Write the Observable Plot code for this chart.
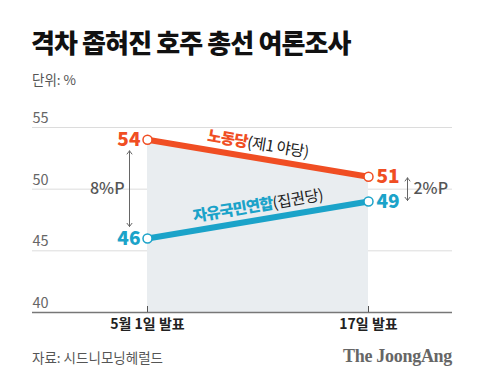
<!DOCTYPE html>
<html><head><meta charset="utf-8">
<script src="https://cdn.jsdelivr.net/npm/d3@7"></script>
<script src="https://cdn.jsdelivr.net/npm/@observablehq/plot@0.6"></script>
<style>
body{margin:0;background:#fff;font-family:"Noto Sans CJK KR",sans-serif;}
#wrap{position:relative;width:480px;height:384px;overflow:hidden;background:#fff;}
#title{position:absolute;left:31px;top:29px;font-size:26px;font-weight:900;color:#111;letter-spacing:-0.9px;line-height:1;white-space:nowrap;}
#unit{position:absolute;left:32px;top:71px;font-size:13.5px;color:#555;line-height:1.2;}
#chart{position:absolute;left:0;top:95px;}
#source{position:absolute;left:32px;top:349px;font-size:13.5px;color:#555;line-height:1.2;}
#logo{position:absolute;right:28px;top:346px;font-family:"Liberation Serif",serif;font-weight:700;font-size:18px;color:#666;line-height:1.2;letter-spacing:-0.3px;}
</style></head><body>
<div id="wrap">
  <div id="title"></div>
  <div id="unit"></div>
  <div id="chart"></div>
  <div id="source"></div>
  <div id="logo"></div>
</div>
<script>
// ---- data ----
const titleText = "격차 좁혀진 호주 총선 여론조사";
const unitText = "단위: %";
const sourceText = "자료: 시드니모닝헤럴드";
const logoText = "The JoongAng";
const dates = ["5월 1일 발표", "17일 발표"];
const partyNames = ["노동당", "자유국민연합"];
const partyNotes = ["(제1 야당)", "(집권당)"];
const laborValues = [54, 51];
const coalitionValues = [46, 49];
const yTicks = [40, 45, 50, 55];

// ---- styles ----
const colors = ["#f04e23", "#1ba3c9"];
const W = 480, H = 250;
const xRange = [147, 368];
const yRange = [217, 32];
const yMin = yTicks[0], yMax = yTicks[yTicks.length - 1];

document.getElementById("title").textContent = titleText;
document.getElementById("unit").textContent = unitText;
document.getElementById("source").textContent = sourceText;
document.getElementById("logo").textContent = logoText;

const seriesValues = [laborValues, coalitionValues];
const series = partyNames.map((name, k) => ({
  name, note: partyNotes[k], color: colors[k],
  rows: seriesValues[k].map((v, i) => ({i, value: v, color: colors[k], date: dates[i]}))
}));
const allRows = series.flatMap(s => s.rows);

// angle of each line in pixels
const xs = Plot.scale({x: {type: "linear", domain: [0, 1], range: xRange}});
const ys = Plot.scale({y: {type: "linear", domain: [yMin, yMax], range: yRange}});
const angleOf = vals => Math.atan2(ys.apply(vals[1]) - ys.apply(vals[0]), xs.apply(1) - xs.apply(0)) * 180 / Math.PI;

const labelRows = series.map(s => ({
  x: 0.5, y: (s.rows[0].value + s.rows[1].value) / 2, text: s.name + s.note, angle: angleOf(s.rows.map(r => r.value))
}));

// gaps
const gapRows = dates.map((d, i) => {
  const a = laborValues[i], b = coalitionValues[i];
  return {i, top: a, bottom: b, mid: (a + b) / 2, label: Math.abs(a - b) + "%P"};
});

const marks = [
  Plot.ruleY(yTicks.slice(1), {stroke: "#dcdcdc", strokeWidth: 1}),
  Plot.areaY(series[0].rows, {x: "i", y1: yMin, y2: "value", fill: "#e9edf0"}),
  Plot.ruleY([yMin], {stroke: "#777", strokeWidth: 1.5}),
  Plot.ruleX([0, 1], {x: d => d, y1: yMin, y2: yMin, insetBottom: 6, stroke: "#555", strokeWidth: 1}),
  Plot.text(yTicks, {frameAnchor: "left", y: d => d, text: d => String(d), textAnchor: "start", dy: -9, fontSize: 14.5, fill: "#666"}),
  Plot.axisX([0, 1], {tickFormat: i => dates[i], tickSize: 0, tickPadding: 7, fontSize: 14, fontWeight: 700, fill: "#222", label: null}),
  // gap arrows
  Plot.arrow(gapRows.filter(d => d.i === 0), {x: "i", y1: "mid", y2: "top", dx: -18, insetEnd: 11, stroke: "#666", strokeWidth: 1, headLength: 6, headAngle: 75}),
  Plot.arrow(gapRows.filter(d => d.i === 0), {x: "i", y1: "mid", y2: "bottom", dx: -18, insetEnd: 12, stroke: "#666", strokeWidth: 1, headLength: 6, headAngle: 75}),
  Plot.arrow(gapRows.filter(d => d.i === 1), {x: "i", y1: "mid", y2: "top", dx: 39, insetEnd: 1, stroke: "#666", strokeWidth: 1, headLength: 6, headAngle: 75}),
  Plot.arrow(gapRows.filter(d => d.i === 1), {x: "i", y1: "mid", y2: "bottom", dx: 39, insetEnd: 1, stroke: "#666", strokeWidth: 1, headLength: 6, headAngle: 75}),
  Plot.text(gapRows.filter(d => d.i === 0), {x: "i", y: "mid", text: "label", dx: -23, textAnchor: "end", fontSize: 16, fontWeight: 500, fill: "#555"}),
  Plot.text(gapRows.filter(d => d.i === 1), {x: "i", y: "mid", text: "label", dx: 45, textAnchor: "start", fontSize: 16, fontWeight: 500, fill: "#555"}),
];
series.forEach(s => {
  marks.push(Plot.line(s.rows, {x: "i", y: "value", stroke: s.color, strokeWidth: 6}));
});
series.forEach(s => {
  marks.push(Plot.dot(s.rows, {x: "i", y: "value", r: 4.5, fill: "white", stroke: s.color, strokeWidth: 1.5}));
});
marks.push(
  Plot.text(allRows.filter(d => d.i === 0), {x: "i", y: "value", text: d => String(d.value), fill: "color", dx: -7, textAnchor: "end", fontSize: 19, fontWeight: 800}),
  Plot.text(allRows.filter(d => d.i === 1), {x: "i", y: "value", text: d => String(d.value), fill: "color", dx: 8, textAnchor: "start", fontSize: 19, fontWeight: 800})
);
labelRows.forEach((l, k) => {
  marks.push(Plot.text([l], {x: "x", y: "y", text: "text", rotate: l.angle, dy: -14, fontSize: 15.5, textAnchor: "middle", fill: colors[k]}));
});

const chart = Plot.plot({
  width: W, height: H,
  marginLeft: 32, marginRight: 28, marginTop: 32, marginBottom: 33,
  x: {type: "linear", domain: [0, 1], range: xRange, axis: null},
  y: {type: "linear", domain: [yMin, yMax], range: yRange, axis: null},
  color: {type: "identity"},
  style: {fontFamily: "Noto Sans CJK KR, sans-serif", background: "transparent", overflow: "visible"},
  marks
});
document.getElementById("chart").appendChild(chart);

// style the party labels with two parts
d3.select(chart).selectAll("text").each(function() {
  const t = this.textContent;
  series.forEach(s => {
    if (t === s.name + s.note) {
      const el = d3.select(this);
      el.text(null);
      el.append("tspan").text(s.name).attr("fill", s.color).attr("font-weight", 800).attr("letter-spacing", "-0.8");
      el.append("tspan").text(s.note).attr("fill", "#222").attr("font-weight", 400).attr("letter-spacing", "-0.5");
    }
  });
});
</script>
</body></html>
